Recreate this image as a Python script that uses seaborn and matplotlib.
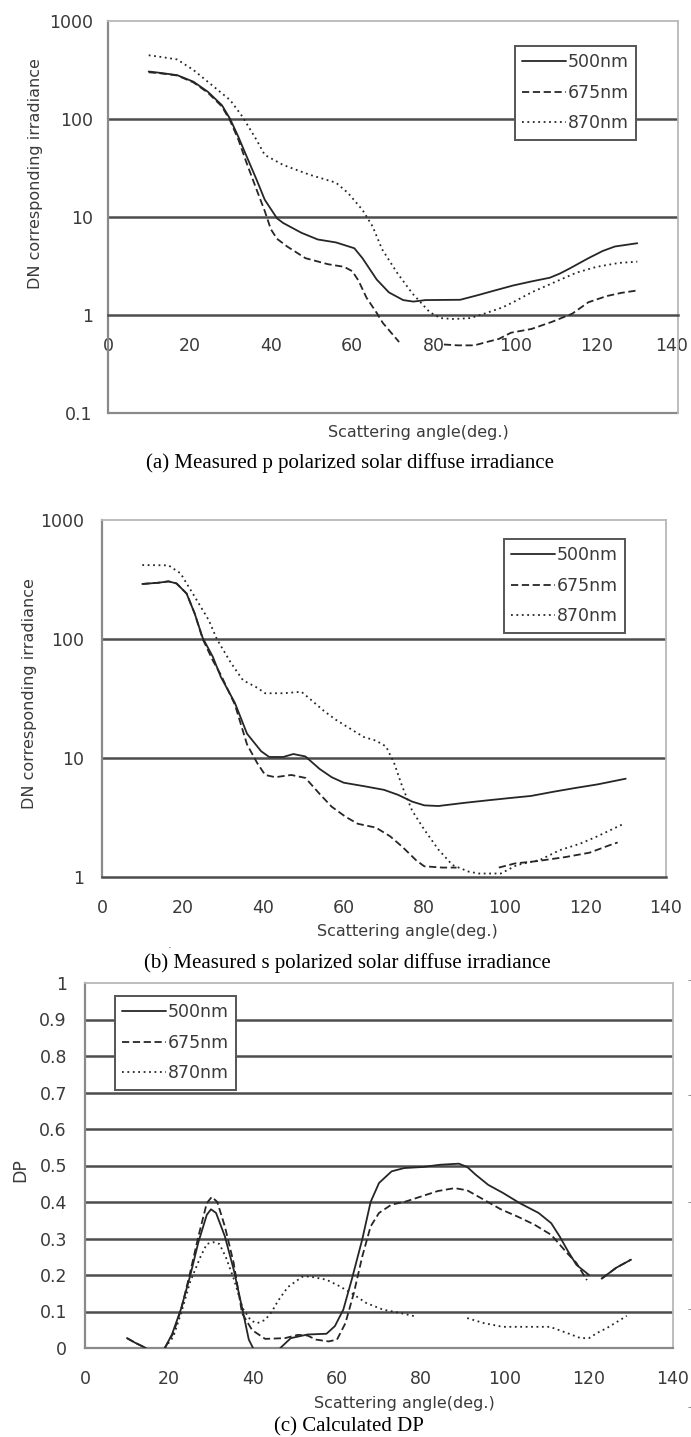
import numpy as np
import pandas as pd
import matplotlib
matplotlib.use("Agg")
import matplotlib.pyplot as plt
from matplotlib.ticker import NullLocator
from matplotlib.transforms import ScaledTranslation
import seaborn as sns

nan = np.nan

# ---------------- data ----------------
WAVES = ["500nm", "675nm", "870nm"]
X_TICKS = [0, 20, 40, 60, 80, 100, 120, 140]

# (a) p polarized
A_500_x = [10, 13, 17, 21, 24.5, 28, 30, 32, 34, 36.5, 38.5, 41.5, 43, 47.5, 51.5, 56, 60.5, 62.5, 66, 69, 72.5, 75, 78, 86.5, 91, 95, 99.5, 104, 108.5, 111, 113.5, 118, 121.5, 124.5, 130]
A_500_y = [305, 295, 280, 240, 190, 138, 100, 66, 42, 24, 15, 9.7, 8.7, 6.9, 5.9, 5.5, 4.8, 3.8, 2.3, 1.7, 1.42, 1.37, 1.42, 1.43, 1.6, 1.78, 2.0, 2.2, 2.4, 2.65, 3.0, 3.8, 4.5, 5.0, 5.4]
A_675_x = [10, 13, 17, 21, 24.5, 28, 30, 32, 34, 36.5, 38.5, 40, 41.5, 44, 48.5, 54, 58, 60, 61.5, 63.5, 66, 67.5, 71.5, nan, 82.5, 86, 90, 93, 96, 99, 104, 109, 114, 118, 122.5, 126, 130]
A_675_y = [300, 292, 278, 236, 186, 134, 96, 62, 36, 19, 11.5, 7.5, 6.0, 5.0, 3.8, 3.3, 3.1, 2.8, 2.25, 1.5, 1.05, 0.83, 0.53, nan, 0.50, 0.49, 0.49, 0.53, 0.57, 0.66, 0.72, 0.85, 1.03, 1.35, 1.56, 1.68, 1.78]
A_870_x = [10, 13, 17, 21, 25.5, 30, 33, 36.5, 38.5, 43, 49.5, 56, 59, 62.5, 65, 67.3, 71, 74.7, 79, 81.6, 85, 89, 93, 97, 99.5, 104, 109, 115, 120, 125.5, 130]
A_870_y = [447, 430, 405, 316, 222, 156, 106, 61, 43, 34, 27, 22.4, 17.5, 11.8, 8.0, 4.7, 2.7, 1.67, 1.07, 0.93, 0.91, 0.93, 1.05, 1.2, 1.35, 1.7, 2.1, 2.7, 3.1, 3.4, 3.5]

# (b) s polarized
B_500_x = [10, 14, 16.5, 18.5, 21, 23, 25, 27.5, 29.5, 33, 36, 39.5, 41.5, 45, 47.5, 50.5, 54, 57, 60, 65, 70, 73.5, 77, 80, 83.5, 90, 95.5, 101, 106.5, 112, 117.5, 123, 130]
B_500_y = [290, 297, 305, 293, 241, 164, 102, 71, 48, 29, 16, 11.4, 10.2, 10.2, 10.8, 10.3, 8.1, 6.9, 6.2, 5.8, 5.4, 4.9, 4.3, 4.0, 3.95, 4.2, 4.4, 4.6, 4.8, 5.2, 5.6, 6.0, 6.7]
B_675_x = [10, 14, 16.5, 18.5, 21, 23, 25, 27.5, 29.5, 33, 36, 38.5, 40.5, 43, 47, 50.5, 54, 57, 60.5, 63.5, 68, 71.5, 74.5, 78, 80, 84.5, 88, nan, 98.5, 102.5, 108, 115, 121, 126, 128]
B_675_y = [290, 297, 305, 293, 241, 164, 100, 66, 50, 28, 13, 9.1, 7.2, 6.9, 7.2, 6.8, 5.0, 3.9, 3.2, 2.8, 2.6, 2.2, 1.8, 1.38, 1.23, 1.2, 1.2, nan, 1.2, 1.3, 1.36, 1.47, 1.6, 1.85, 1.95]
B_870_x = [10, 16.5, 19.5, 23, 26.5, 28.5, 32, 35, 38.5, 40.5, 45, 49.5, 51.5, 55, 58, 62, 65, 68, 70.5, 72.5, 74.5, 77, 80, 83.5, 87, 91, 93.5, 99, 103, 108.7, 113.6, 118.6, 123, 129.5]
B_870_y = [418, 416, 356, 227, 144, 100, 63, 45, 39, 35, 35, 36, 31.6, 25, 21, 17.3, 15, 14, 12.5, 9.1, 5.8, 3.6, 2.5, 1.7, 1.26, 1.11, 1.07, 1.07, 1.26, 1.39, 1.68, 1.9, 2.2, 2.8]

# (c) DP
C_500_x = [10, 12, 14.5, nan, 19, 20.7, 22.8, 25, 27, 29, 30, 31.2, 33.3, 35.4, 37.5, 39, 40, nan,
           46.5, 49, 53, 57.5, 59.5, 61.5, 63.5, 66, 68, 70, 73, 76, 80.5, 84.5, 89, 91, 93, 96, 99.5, 103.5, 108, 111, 113, 115, 117, 120, nan,
           123, 126.5, 130]
C_500_y = [0.027, 0.014, 0.0, nan, 0.0, 0.037, 0.105, 0.196, 0.29, 0.365, 0.38, 0.37, 0.306, 0.215, 0.105, 0.023, 0.0, nan,
           0.0, 0.027, 0.037, 0.039, 0.06, 0.105, 0.187, 0.297, 0.40, 0.452, 0.484, 0.493, 0.496, 0.502, 0.505, 0.496, 0.475, 0.447, 0.425, 0.397, 0.37, 0.342, 0.306, 0.265, 0.228, 0.2, nan,
           0.19, 0.22, 0.242]
C_675_x = [10, 12, 14.5, nan, 19, 21, 23, 25, 27, 29, 30.2, 31.5, 33.3, 35.4, 37.4, 39.8, 42.9, 47.6, 50.7, 53, 55, 58, 60, 62, 64, 66, 68, 70, 73, 76, 80, 84, 88, 91, 95, 99, 103, 107, 111, 114.8, 117, 119.5, nan,
           123, 126.5, 130]
C_675_y = [0.027, 0.014, 0.0, nan, 0.0, 0.04, 0.11, 0.205, 0.306, 0.397, 0.414, 0.40, 0.333, 0.233, 0.095, 0.049, 0.025, 0.027, 0.036, 0.034, 0.023, 0.018, 0.023, 0.068, 0.15, 0.25, 0.333, 0.37, 0.393, 0.40, 0.415, 0.43, 0.438, 0.432, 0.406, 0.38, 0.36, 0.338, 0.31, 0.26, 0.233, 0.186, nan,
           0.19, 0.22, 0.242]
C_870_x = [19, 21, 23, 25, 27.5, 29, 30.5, 32, 33.5, 35.5, 37.5, 39.5, 41, 42.9, 44.5, 46, 48.3, 51.7, 53.5, 57.5, 60.5, 63.5, 67, 71, 75, 78.5, nan,
           91, 95, 99.5, 105, 110.7, 114.8, 118, 120, 121.9, 124.3, 129]
C_870_y = [0.0, 0.03, 0.1, 0.18, 0.25, 0.285, 0.29, 0.285, 0.25, 0.187, 0.11, 0.075, 0.068, 0.077, 0.1, 0.13, 0.167, 0.195, 0.196, 0.187, 0.17, 0.15, 0.123, 0.105, 0.096, 0.087, nan,
           0.082, 0.068, 0.058, 0.058, 0.058, 0.041, 0.027, 0.027, 0.041, 0.055, 0.088]

LOG_TICKS = [0.1, 1, 10, 100, 1000]
LOG_LABELS = ["0.1", "1", "10", "100", "1000"]
DP_TICKS = [0, 0.1, 0.2, 0.3, 0.4, 0.5, 0.6, 0.7, 0.8, 0.9, 1]
DP_LABELS = ["0", "0.1", "0.2", "0.3", "0.4", "0.5", "0.6", "0.7", "0.8", "0.9", "1"]

CAPTIONS = ["(a) Measured p polarized solar diffuse irradiance",
            "(b) Measured s polarized solar diffuse irradiance",
            "(c) Calculated DP"]
YLABEL_IRR = "DN corresponding irradiance"
XLABEL = "Scattering angle(deg.)"


def long_frame(series):
    rows = []
    for wave, (xs, ys) in series.items():
        seg = 0
        for x, y in zip(xs, ys):
            if np.isnan(x) or np.isnan(y):
                seg += 1
                continue
            rows.append((wave, f"{wave}-{seg}", x, y))
    return pd.DataFrame(rows, columns=["wl", "seg", "angle", "value"])


df_a = long_frame({"500nm": (A_500_x, A_500_y), "675nm": (A_675_x, A_675_y), "870nm": (A_870_x, A_870_y)})
df_b = long_frame({"500nm": (B_500_x, B_500_y), "675nm": (B_675_x, B_675_y), "870nm": (B_870_x, B_870_y)})
df_c = long_frame({"500nm": (C_500_x, C_500_y), "675nm": (C_675_x, C_675_y), "870nm": (C_870_x, C_870_y)})

# ---------------- style ----------------
sns.set_theme(style="white")
plt.rcParams["font.family"] = ["DejaVu Sans"]

LINE_C = "#262626"
GRID_C = "#4d4d4d"
AXIS_C = "#8a8a8a"
BORDER_C = "#b8b8b8"
TXT_C = "#3a3a3a"
DASHES = {"500nm": "", "675nm": (4, 2), "870nm": (1, 2)}
TICK_FS = 12.5

W, H = 691, 1437
fig = plt.figure(figsize=(W / 100, H / 100), dpi=100)


def px_axes(left, right, top, bottom):
    return fig.add_axes([left / W, 1 - bottom / H, (right - left) / W, (bottom - top) / H])


ax_a = px_axes(108, 678, 21, 413)
ax_b = px_axes(102, 666, 520, 877)
ax_c = px_axes(85, 673, 983, 1348)


def draw(ax, df, legend_anchor):
    sns.lineplot(data=df, x="angle", y="value", style="wl", style_order=WAVES,
                 units="seg", estimator=None, dashes=DASHES, color=LINE_C,
                 linewidth=1.3, ax=ax, legend="brief", zorder=3)
    sns.move_legend(ax, "upper left", bbox_to_anchor=legend_anchor, borderaxespad=0,
                    title=None, frameon=True, fancybox=False, framealpha=1,
                    edgecolor="#555555", fontsize=12.5, handlelength=2.5,
                    handletextpad=0.12, labelspacing=0.72, borderpad=0.42)
    leg = ax.get_legend()
    leg.get_frame().set_linewidth(1.4)
    leg.set_zorder(5)
    for t in leg.get_texts():
        t.set_color(TXT_C)


def style_axes(ax, yticks, ylabels, grid_vals, ypad):
    ax.set_xlim(0, 140)
    ax.set_xticks(X_TICKS, labels=[str(v) for v in X_TICKS])
    ax.set_yticks(yticks, labels=ylabels)
    ax.yaxis.set_minor_locator(NullLocator())
    ax.xaxis.set_minor_locator(NullLocator())
    for v in grid_vals:
        ax.axhline(v, color=GRID_C, lw=1.8, zorder=1)
    ax.spines["left"].set_color(AXIS_C)
    ax.spines["left"].set_linewidth(1.6)
    ax.spines["bottom"].set_color(AXIS_C)
    ax.spines["bottom"].set_linewidth(1.6)
    for s in ("top", "right"):
        ax.spines[s].set_color(BORDER_C)
        ax.spines[s].set_linewidth(1.3)
    ax.tick_params(axis="x", direction="in", length=5, width=1.2, color=AXIS_C,
                   pad=16, labelsize=TICK_FS, labelcolor=TXT_C)
    ax.tick_params(axis="y", length=0, pad=ypad, labelsize=TICK_FS, labelcolor=TXT_C)
    ax.set_facecolor("white")


# (a)
draw(ax_a, df_a, (0.714, 0.936))
ax_a.set_yscale("log")
ax_a.set_ylim(0.1, 1000)
style_axes(ax_a, LOG_TICKS, LOG_LABELS, [10, 100], 11)
ax_a.spines["bottom"].set_position(("data", 1))
ax_a.spines["bottom"].set_color(GRID_C)
ax_a.spines["bottom"].set_linewidth(1.8)
ax_a.axhline(0.1, color=AXIS_C, lw=1.6, clip_on=False, zorder=1)
ax_a.set_ylabel(YLABEL_IRR, fontsize=11.5, color=TXT_C, va="center")
ax_a.yaxis.set_label_coords(-0.128, 0.612)
ax_a.set_xlabel(XLABEL, fontsize=11.5, color=TXT_C, va="center")
ax_a.xaxis.set_label_coords(0.544, -0.051)
# keep the right-most tick label inside the canvas
last = ax_a.get_xticklabels()[-1]
last.set_transform(last.get_transform() + ScaledTranslation(-6 / 100, 0, fig.dpi_scale_trans))

# (b)
draw(ax_b, df_b, (0.713, 0.947))
ax_b.set_yscale("log")
ax_b.set_ylim(1, 1000)
style_axes(ax_b, LOG_TICKS[1:], LOG_LABELS[1:], [10, 100], 13)
ax_b.spines["bottom"].set_color(GRID_C)
ax_b.spines["bottom"].set_linewidth(1.8)
ax_b.set_ylabel(YLABEL_IRR, fontsize=11.5, color=TXT_C, va="center")
ax_b.yaxis.set_label_coords(-0.129, 0.513)
ax_b.set_xlabel(XLABEL, fontsize=11.5, color=TXT_C, va="center")
ax_b.xaxis.set_label_coords(0.541, -0.154)

# (c)
draw(ax_c, df_c, (0.051, 0.964))
ax_c.set_ylim(0, 1)
style_axes(ax_c, DP_TICKS, DP_LABELS, DP_TICKS[1:-1], 13)
ax_c.set_ylabel("DP", fontsize=12.5, color=TXT_C, va="center")
ax_c.yaxis.set_label_coords(-0.11, 0.488)
ax_c.set_xlabel(XLABEL, fontsize=11.5, color=TXT_C, va="center")
ax_c.xaxis.set_label_coords(0.544, -0.151)

# captions
for cap, (cx, cy) in zip(CAPTIONS, [(350, 463), (347, 963), (349, 1427)]):
    fig.text(cx / W, 1 - cy / H, cap, ha="center", va="center",
             family=["Liberation Serif", "DejaVu Serif"], fontsize=15, color="black")

# stray scan marks at the right edge of panel (c) and a dot under panel (b)
for my in [980, 1095, 1202, 1309, 1407]:
    fig.text(689 / W, 1 - my / H, "-", ha="center", va="center", fontsize=7, color="#777777")
fig.text(170 / W, 1 - 945 / H, ".", ha="center", va="center", fontsize=8, color="#555555")

fig.savefig("out.png", dpi=100, facecolor="white")
